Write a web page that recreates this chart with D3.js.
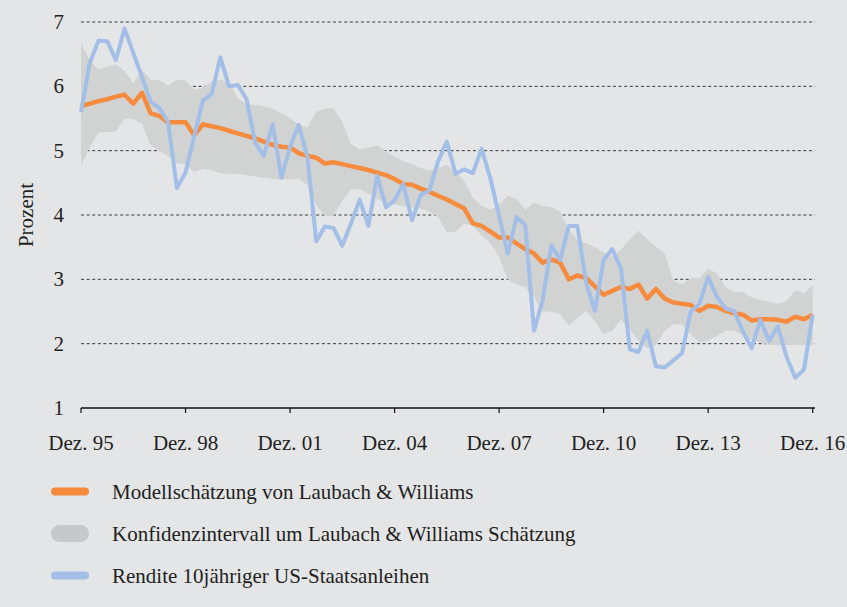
<!DOCTYPE html>
<html>
<head>
<meta charset="utf-8">
<script src="https://cdn.jsdelivr.net/npm/d3@7"></script>
<style>
  body { margin: 0; background: #e4e5e7; }
  text { font-family: "Liberation Serif", "Times New Roman", serif; fill: #231f20; }
</style>
</head>
<body>
<div id="chart"></div>
<script>
// quarterly values, Dez. 95 - Dez. 16
const yield10 = [
  5.60, 6.36, 6.71, 6.70, 6.41, 6.90, 6.52, 6.14, 5.76, 5.66,
  5.45, 4.42, 4.66, 5.22, 5.78, 5.88, 6.45, 6.00, 6.02, 5.80,
  5.12, 4.92, 5.41, 4.58, 5.06, 5.40, 4.90, 3.59, 3.82, 3.80,
  3.52, 3.87, 4.24, 3.83, 4.61, 4.12, 4.23, 4.48, 3.92, 4.31,
  4.38, 4.83, 5.14, 4.64, 4.71, 4.65, 5.03, 4.57, 3.99, 3.40,
  3.97, 3.84, 2.20, 2.67, 3.53, 3.30, 3.83, 3.83, 2.94, 2.51,
  3.30, 3.47, 3.17, 1.91, 1.87, 2.20, 1.65, 1.63, 1.74, 1.85,
  2.50, 2.62, 3.04, 2.73, 2.55, 2.50, 2.19, 1.93, 2.37, 2.04,
  2.27, 1.80, 1.47, 1.60, 2.45
];
const lwModel = [
  5.69, 5.73, 5.77, 5.80, 5.84, 5.87, 5.73, 5.90, 5.58, 5.54,
  5.44, 5.44, 5.44, 5.24, 5.41, 5.38, 5.35, 5.31, 5.27, 5.23,
  5.19, 5.14, 5.09, 5.06, 5.05, 4.96, 4.92, 4.89, 4.80, 4.82,
  4.79, 4.76, 4.73, 4.70, 4.66, 4.62, 4.56, 4.48, 4.47, 4.41,
  4.36, 4.30, 4.24, 4.17, 4.10, 3.87, 3.83, 3.74, 3.65, 3.65,
  3.56, 3.47, 3.40, 3.26, 3.31, 3.26, 3.00, 3.06, 3.02, 2.89,
  2.76, 2.82, 2.88, 2.85, 2.92, 2.70, 2.85, 2.70, 2.64, 2.62,
  2.60, 2.51, 2.59, 2.57, 2.51, 2.47, 2.45, 2.36, 2.38, 2.38,
  2.37, 2.34, 2.42, 2.38, 2.45
];
const bandHigh = [
  6.67, 6.40, 6.26, 6.31, 6.34, 6.24, 6.05, 6.25, 6.10, 6.10,
  6.01, 6.10, 6.09, 5.95, 5.98, 6.07, 6.10, 6.07, 5.82, 5.72,
  5.71, 5.69, 5.65, 5.58, 5.50, 5.41, 5.36, 5.61, 5.65, 5.66,
  5.45, 5.10, 5.02, 5.05, 5.08, 4.99, 4.91, 4.83, 4.79, 4.73,
  4.69, 4.73, 4.78, 4.67, 4.53, 4.27, 4.14, 4.08, 4.16, 4.30,
  4.25, 4.08, 4.19, 4.14, 4.12, 4.05, 3.78, 3.62, 3.56, 3.50,
  3.42, 3.36, 3.46, 3.62, 3.76, 3.62, 3.51, 3.40, 2.98, 2.92,
  3.02, 3.02, 3.17, 3.09, 2.88, 2.80, 2.80, 2.72, 2.68, 2.65,
  2.62, 2.66, 2.83, 2.78, 2.91
];
const bandLow = [
  4.77, 5.05, 5.28, 5.29, 5.30, 5.50, 5.49, 5.42, 5.08, 4.99,
  4.92, 4.80, 4.79, 4.67, 4.72, 4.70, 4.65, 4.64, 4.64, 4.62,
  4.60, 4.58, 4.56, 4.55, 4.55, 4.56, 4.47, 4.15, 3.98, 3.99,
  4.22, 4.40, 4.40, 4.33, 4.25, 4.18, 4.16, 4.14, 4.12, 4.10,
  4.05, 3.97, 3.73, 3.74, 3.87, 3.83, 3.68, 3.56, 3.35, 3.00,
  2.92, 2.88, 2.72, 2.50, 2.50, 2.46, 2.28, 2.40, 2.51, 2.35,
  2.15, 2.20, 2.37, 2.22, 2.05, 1.93, 1.98, 2.20, 2.30, 2.30,
  2.15, 2.02, 2.05, 2.12, 2.20, 2.20, 2.13, 2.06, 2.02, 1.98,
  1.98, 1.98, 1.98, 1.98, 1.97
];
const yTicks = [1, 2, 3, 4, 5, 6, 7];
const xTickYears = [1995, 1998, 2001, 2004, 2007, 2010, 2013, 2016];
const legendLabels = [
  "Modellschätzung von Laubach & Williams",
  "Konfidenzintervall um Laubach & Williams Schätzung",
  "Rendite 10jähriger US-Staatsanleihen"
];

const width = 847, height = 607;
const orange = "#f68b3d", blue = "#a3bfe7", bandCol = "#d1d2d2";
const fontSize = "21px";

const svg = d3.select("#chart").append("svg")
  .attr("width", width)
  .attr("height", height);

// quarter dates from Dez. 95
const quarters = d3.range(yield10.length).map(i => new Date(1995, 11 + 3 * i, 1));

const x = d3.scaleTime()
  .domain([new Date(1995, 11, 1), new Date(2016, 11, 1)])
  .range([81, 812.7]);
const y = d3.scaleLinear()
  .domain([1, 7])
  .range([408, 22]);

// gridlines
svg.append("g")
  .selectAll("line")
  .data(yTicks.filter(d => d > 1))
  .join("line")
    .attr("x1", 81)
    .attr("x2", 815)
    .attr("y1", d => y(d))
    .attr("y2", d => y(d))
    .attr("stroke", "#3a3a3a")
    .attr("stroke-width", 1)
    .attr("stroke-dasharray", "3,2.6");

// confidence band
const band = d3.area()
  .x((d, i) => x(quarters[i]))
  .y0((d, i) => y(bandLow[i]))
  .y1((d, i) => y(bandHigh[i]));
svg.append("path")
  .datum(bandLow)
  .attr("d", band)
  .attr("fill", bandCol);

// lines
const line = d3.line()
  .x((d, i) => x(quarters[i]))
  .y(d => y(d));
svg.append("path")
  .datum(lwModel)
  .attr("d", line)
  .attr("fill", "none")
  .attr("stroke", orange)
  .attr("stroke-width", 4.5)
  .attr("stroke-linejoin", "round");
svg.append("path")
  .datum(yield10)
  .attr("d", line)
  .attr("fill", "none")
  .attr("stroke", blue)
  .attr("stroke-width", 4)
  .attr("stroke-linejoin", "round");

// x axis
svg.append("line")
  .attr("x1", 81).attr("x2", 815)
  .attr("y1", y(1)).attr("y2", y(1))
  .attr("stroke", "#111")
  .attr("stroke-width", 1.3);
const xTicks = xTickYears.map(yr => new Date(yr, 11, 1));
svg.append("g")
  .selectAll("line")
  .data(xTicks)
  .join("line")
    .attr("x1", d => x(d)).attr("x2", d => x(d))
    .attr("y1", y(1)).attr("y2", y(1) + 5)
    .attr("stroke", "#111")
    .attr("stroke-width", 1.2);
svg.append("g")
  .selectAll("text")
  .data(xTicks)
  .join("text")
    .attr("x", d => x(d))
    .attr("y", 450)
    .attr("text-anchor", "middle")
    .style("font-size", fontSize)
    .text(d => "Dez. " + d3.timeFormat("%y")(d));

// y axis labels
svg.append("g")
  .selectAll("text")
  .data(yTicks)
  .join("text")
    .attr("x", 64)
    .attr("y", d => y(d) + 7)
    .attr("text-anchor", "end")
    .style("font-size", fontSize)
    .text(d => d);

svg.append("text")
  .attr("transform", "translate(33,215) rotate(-90)")
  .attr("text-anchor", "middle")
  .style("font-size", fontSize)
  .text("Prozent");

// legend
const legendY = [491.5, 533.5, 575.5];
const swatch = [
  { col: orange, w: 8 },
  { col: "#c6c8c9", w: 17 },
  { col: blue, w: 8 }
];
const legend = svg.append("g");
legend.selectAll("line")
  .data(legendLabels)
  .join("line")
    .attr("x1", (d, i) => 51 + swatch[i].w / 2)
    .attr("x2", (d, i) => 89 - swatch[i].w / 2)
    .attr("y1", (d, i) => legendY[i])
    .attr("y2", (d, i) => legendY[i])
    .attr("stroke", (d, i) => swatch[i].col)
    .attr("stroke-width", (d, i) => swatch[i].w)
    .attr("stroke-linecap", "round");
legend.selectAll("text")
  .data(legendLabels)
  .join("text")
    .attr("x", 112)
    .attr("y", (d, i) => legendY[i] + 7)
    .style("font-size", fontSize)
    .text(d => d);
</script>
</body>
</html>
